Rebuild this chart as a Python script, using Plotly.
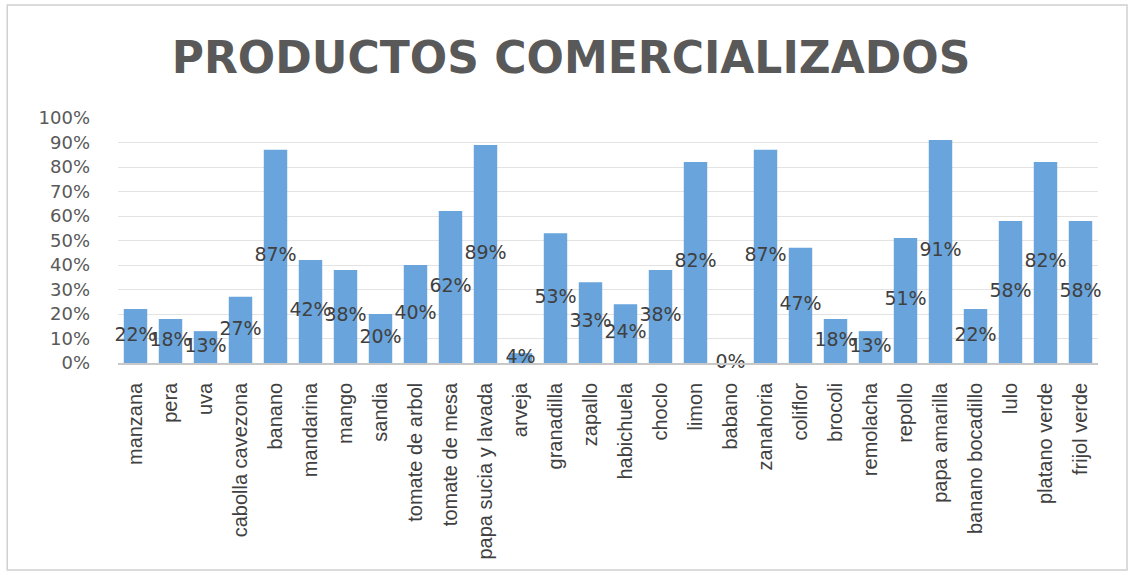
import plotly.graph_objects as go

categories = ["manzana", "pera", "uva", "cabolla cavezona", "banano", "mandarina", "mango",
              "sandia", "tomate de arbol", "tomate de mesa", "papa sucia y lavada", "arveja",
              "granadilla", "zapallo", "habichuela", "choclo", "limon", "babano", "zanahoria",
              "coliflor", "brocoli", "remolacha", "repollo", "papa amarilla", "banano bocadillo",
              "lulo", "platano verde", "frijol verde"]
values = [0.22, 0.18, 0.13, 0.27, 0.87, 0.42, 0.38, 0.20, 0.40, 0.62, 0.89, 0.04, 0.53, 0.33,
          0.24, 0.38, 0.82, 0.00, 0.87, 0.47, 0.18, 0.13, 0.51, 0.91, 0.22, 0.58, 0.82, 0.58]
title = "PRODUCTOS COMERCIALIZADOS"
y_ticks = [0, 0.1, 0.2, 0.3, 0.4, 0.5, 0.6, 0.7, 0.8, 0.9, 1.0]

fig = go.Figure()
fig.add_trace(go.Bar(x=categories, y=values, marker=dict(color="#69a5dc", line=dict(width=0)),
                     hoverinfo="x+y"))
fig.add_trace(go.Scatter(x=categories, y=[v / 2 for v in values], mode="text",
                         text=[f"{round(v*100)}%" for v in values],
                         textfont=dict(family="DejaVu Sans", size=19, color="#404040"),
                         textposition="middle center", cliponaxis=False, hoverinfo="skip"))

fig.update_layout(
    width=1133, height=578,
    margin=dict(l=118, r=35, t=118, b=215),
    paper_bgcolor="white", plot_bgcolor="white",
    showlegend=False, bargap=0.33,
    title=dict(text=title, x=0.504, xanchor="center", y=0.9, yanchor="middle",
               font=dict(family="DejaVu Sans", size=44, color="#595959", weight="bold")),
    shapes=[dict(type="rect", xref="paper", yref="paper", x0=-0.113, x1=1.0296, y0=-0.845, y1=1.461,
                 line=dict(color="#d0d0d0", width=1.5))],
)
fig.update_yaxes(range=[0, 1], tickvals=y_ticks, tickformat=".0%",
                 tickfont=dict(family="DejaVu Sans", size=18, color="#595959"),
                 gridcolor="#e3e3e3", gridwidth=1, zeroline=False, showline=False,
                 ticks="", ticklabelstandoff=27)
fig.update_xaxes(range=[-0.5, len(categories) - 0.5], tickangle=-90,
                 tickfont=dict(family="Liberation Sans", size=20, color="#404040"),
                 showline=True, linecolor="#c8c8c8", linewidth=1.5, ticks="",
                 ticklabelstandoff=10)

fig.write_html("out.html")
